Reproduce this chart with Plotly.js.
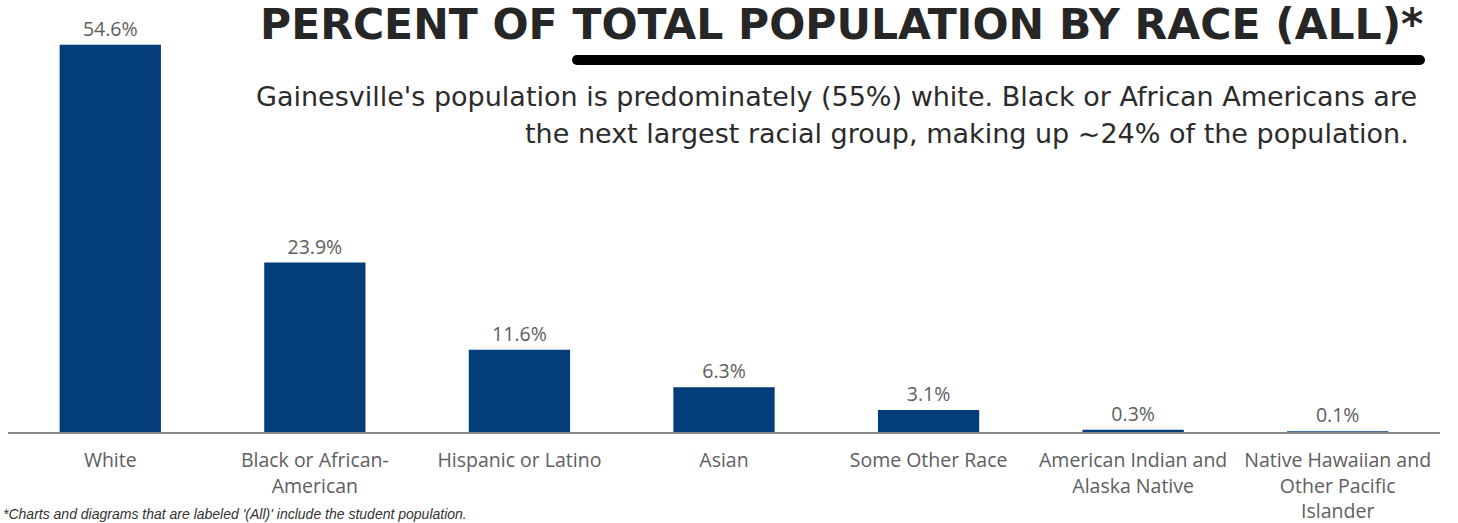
<!DOCTYPE html>
<html><head><meta charset="utf-8">
<script src="https://cdn.plot.ly/plotly-3.0.1.min.js"></script>
<style>html,body{margin:0;padding:0;background:#fff;}#chart{width:1458px;height:523px;}</style>
</head><body><div id="chart"></div>
<script>
const categories = ["White","Black or African-<br>American","Hispanic or Latino","Asian","Some Other Race","American Indian and<br>Alaska Native","Native Hawaiian and<br>Other Pacific<br>Islander"];
const values = [54.6, 23.9, 11.6, 6.3, 3.1, 0.3, 0.1];
const valueLabels = ["54.6%","23.9%","11.6%","6.3%","3.1%","0.3%","0.1%"];
const titleText = "PERCENT OF TOTAL POPULATION BY RACE (ALL)*";
const subLine1 = "Gainesville's population is predominately (55%) white. Black or African Americans are";
const subLine2 = "the next largest racial group, making up ~24% of the population.";
const footnote = "*Charts and diagrams that are labeled '(All)' include the student population.";

const W=1458,H=523, L=8, R=18, T=20, B=91;
const pw=W-L-R, ph=H-T-B;
const px = x => (x-L)/pw;
const py = y => (H-B-y)/ph;

const labelFont = {family:'Open Sans, sans-serif', size:19.5, color:'#5e5e5e'};
const trace = {
  type:'bar', x:categories, y:values, text:valueLabels, textposition:'outside',
  textfont:labelFont,
  marker:{color:'#033d7a'}, cliponaxis:false, hoverinfo:'none'
};
const layout = {
  width:W, height:H, margin:{l:L,r:R,t:T,b:B},
  paper_bgcolor:'#fff', plot_bgcolor:'#fff',
  bargap:0.505, showlegend:false,
  xaxis:{type:'category', showline:true, linecolor:'#8a8a8a', linewidth:2, ticks:'',
         ticklabelstandoff:10, tickfont:labelFont, fixedrange:true, showgrid:false},
  yaxis:{range:[0,58.1], visible:false, showgrid:false, zeroline:false, fixedrange:true},
  shapes:[{type:'line', xref:'paper', yref:'paper', x0:px(577), x1:px(1420), y0:py(60), y1:py(60),
           line:{color:'#000', width:10}},
          {type:'circle', xref:'paper', yref:'paper', x0:px(572), x1:px(582), y0:py(55), y1:py(65), fillcolor:'#000', line:{width:0}},
          {type:'circle', xref:'paper', yref:'paper', x0:px(1415), x1:px(1425), y0:py(55), y1:py(65), fillcolor:'#000', line:{width:0}}],
  annotations:[
    {text:'<b>'+titleText+'</b>', xref:'paper', yref:'paper', x:px(1425), y:py(24), xanchor:'right', yanchor:'middle',
     showarrow:false, font:{family:'DejaVu Sans, sans-serif', size:42.5, color:'#262626'}},
    {text:subLine1, xref:'paper', yref:'paper', x:px(1419), y:py(96), xanchor:'right', yanchor:'middle',
     showarrow:false, font:{family:'DejaVu Sans, sans-serif', size:27, color:'#2b2b2b'}},
    {text:subLine2, xref:'paper', yref:'paper', x:px(1411), y:py(133), xanchor:'right', yanchor:'middle',
     showarrow:false, font:{family:'DejaVu Sans, sans-serif', size:27, color:'#2b2b2b'}},
    {text:'<i>'+footnote+'</i>', xref:'paper', yref:'paper', x:px(1), y:py(514), xanchor:'left', yanchor:'middle',
     showarrow:false, font:{family:'Liberation Sans, sans-serif', size:14, color:'#333'}}
  ]
};
Plotly.newPlot('chart',[trace],layout,{displayModeBar:false, staticPlot:true});
</script></body></html>
